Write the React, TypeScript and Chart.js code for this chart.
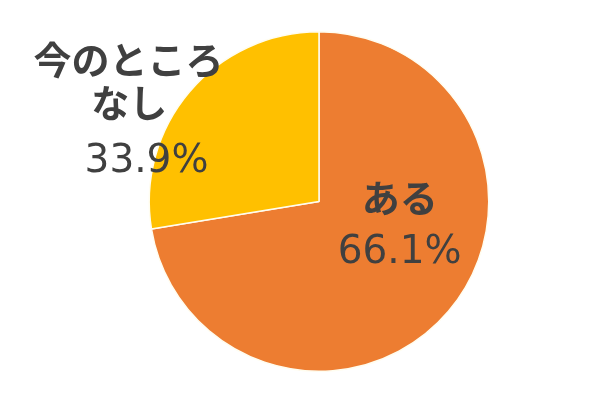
import React, { useEffect, useRef } from "react";
import { Chart, registerables } from "chart.js";

Chart.register(...registerables);

// Categories (label text, split into lines as printed)
const categories = ["ある", "今のところなし"];
const categoryLines = [["ある"], ["今のところ", "なし"]];
// Printed percentage labels
const percentLabels = ["66.1%", "33.9%"];
// Slice sizes as drawn in the picture (measured angles)
const sliceValues = [72.4, 27.6];
const sliceColors = ["#ED7D31", "#FFC000"];

// Label placement (relative to pie center, in units of radius) - styling only
const labelLayout = [
  { lines: [{ dx: 0.475, dy: -0.025 }], pct: { dx: 0.475, dy: 0.36 } },
  {
    lines: [
      { dx: -1.122, dy: -0.835 },
      { dx: -1.118, dy: -0.585 },
    ],
    pct: { dx: -1.016, dy: -0.175 },
  },
];

const labelPlugin = {
  id: "pieLabels",
  afterDatasetsDraw(chart: any) {
    const meta = chart.getDatasetMeta(0);
    const ctx = chart.ctx;
    ctx.save();
    ctx.fillStyle = "#404040";
    ctx.textAlign = "center";
    meta.data.forEach((arc: any, i: number) => {
      const { x, y, outerRadius } = arc.getProps(["x", "y", "outerRadius"], true);
      const lay = labelLayout[i];
      ctx.font = "bold 38px 'Noto Sans CJK JP'";
      ctx.textBaseline = "middle";
      categoryLines[i].forEach((line, j) => {
        const p = lay.lines[j];
        ctx.fillText(line, x + p.dx * outerRadius, y + p.dy * outerRadius);
      });
      ctx.font = "normal 39px 'DejaVu Sans'";
      ctx.textBaseline = "alphabetic";
      ctx.fillText(
        percentLabels[i],
        x + lay.pct.dx * outerRadius,
        y + lay.pct.dy * outerRadius
      );
    });
    ctx.restore();
  },
};

export default function App() {
  const canvasRef = useRef<HTMLCanvasElement | null>(null);

  useEffect(() => {
    document.body.style.margin = "0";
    const canvas = canvasRef.current;
    if (!canvas) return;
    const chart = new Chart(canvas, {
      type: "pie",
      data: {
        labels: categories,
        datasets: [
          {
            data: sliceValues,
            backgroundColor: sliceColors,
            borderColor: "#FFFDF0",
            borderWidth: 1.5,
          },
        ],
      },
      options: {
        animation: false,
        responsive: false,
        maintainAspectRatio: false,
        layout: { padding: { left: 148.5, right: 110.5, top: 31, bottom: 28 } },
        plugins: {
          legend: { display: false },
          tooltip: { enabled: false },
        },
      },
      plugins: [labelPlugin],
    });
    return () => chart.destroy();
  }, []);

  return (
    <div style={{ position: "fixed", left: 0, top: 0, width: 600, height: 400, background: "#fff" }}>
      <canvas ref={canvasRef} width={600} height={400} style={{ width: 600, height: 400 }} />
    </div>
  );
}
